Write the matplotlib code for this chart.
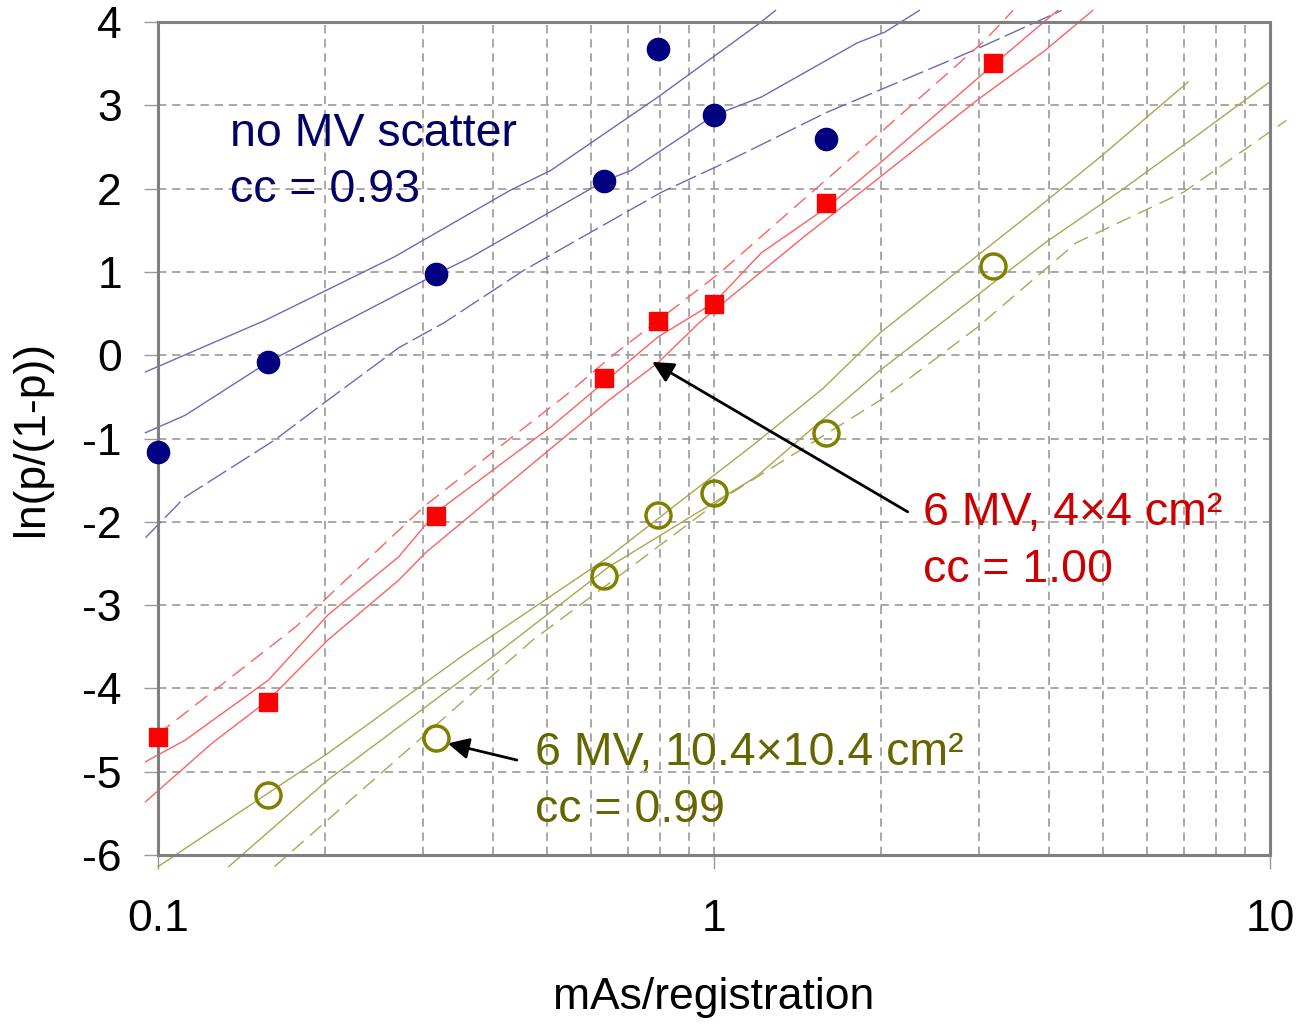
import numpy as np
import matplotlib
matplotlib.use('Agg')
import matplotlib.pyplot as plt
from matplotlib.ticker import LogLocator, FixedLocator, NullFormatter

plt.rcParams['font.family'] = ['Liberation Sans', 'DejaVu Sans']

# measured points
mas = [0.1, 0.158, 0.316, 0.634, 0.793, 1.0, 1.59, 3.17]
y_nomv = [-1.16, -0.08, 0.98, 2.09, 3.68, 2.88, 2.60]
y_4x4 = [-4.58, -4.16, -1.93, -0.27, 0.41, 0.61, 1.83, 3.51]
mas_10 = [0.158, 0.316, 0.634, 0.793, 1.0, 1.59, 3.17]
y_10x10 = [-5.28, -4.60, -2.65, -1.92, -1.65, -0.93, 1.07]

# fit curves (upper band / fit / lower band)
nomv_up_x = [0.095, 0.156, 0.266, 0.43, 0.509, 0.793, 1.21, 1.29]
nomv_up_y = [-0.20, 0.42, 1.18, 1.98, 2.22, 3.10, 3.99, 4.14]
nomv_fit_x = [0.095, 0.112, 0.158, 0.191, 0.316, 0.364, 0.634, 0.71, 1.0, 1.217, 1.81, 2.03, 2.34]
nomv_fit_y = [-0.93, -0.72, -0.08, 0.21, 0.97, 1.17, 2.09, 2.22, 2.88, 3.10, 3.75, 3.88, 4.14]
nomv_lo_x = [0.095, 0.112, 0.162, 0.202, 0.271, 0.327, 0.455, 0.624, 0.806, 1.03, 1.6, 2.03, 2.93, 4.22]
nomv_lo_y = [-2.19, -1.70, -1.02, -0.54, 0.09, 0.39, 1.02, 1.54, 1.96, 2.29, 2.92, 3.21, 3.66, 4.14]

r4_up_x = [0.1, 0.177, 0.303, 0.43, 0.537, 0.658, 1.025, 1.36, 1.99, 3.07, 3.45]
r4_up_y = [-4.55, -3.26, -1.80, -1.00, -0.50, 0.00, 0.99, 1.71, 2.67, 3.78, 4.14]
r4_fit_x = [0.095, 0.112, 0.158, 0.202, 0.271, 0.316, 0.509, 0.793, 1.0, 1.217, 1.6, 1.99, 3.17, 4.15]
r4_fit_y = [-4.88, -4.62, -3.90, -3.12, -2.42, -1.89, -0.86, 0.22, 0.63, 1.23, 1.78, 2.31, 3.48, 4.14]
r4_lo_x = [0.095, 0.125, 0.158, 0.202, 0.271, 0.303, 0.4, 0.647, 0.793, 0.944, 1.45, 1.99, 2.97, 3.94, 4.8]
r4_lo_y = [-5.36, -4.66, -4.14, -3.42, -2.70, -2.37, -1.70, -0.54, -0.09, 0.40, 1.42, 2.14, 3.06, 3.66, 4.14]

r10_up_x = [0.1, 0.202, 0.351, 0.647, 1.19, 1.57, 1.99, 2.65, 3.84, 4.99, 7.12]
r10_up_y = [-6.14, -4.78, -3.62, -2.42, -1.05, -0.40, 0.27, 0.93, 1.78, 2.40, 3.28]
r10_fit_x = [0.134, 0.202, 0.4, 0.647, 1.19, 1.99, 3.94, 5.4, 7.5, 9.98]
r10_fit_y = [-6.14, -5.10, -3.62, -2.54, -1.46, -0.18, 1.35, 1.98, 2.67, 3.28]
r10_lo_x = [0.162, 0.281, 0.472, 0.71, 1.025, 1.99, 2.97, 4.48, 7.0, 10.7]
r10_lo_y = [-6.14, -4.74, -3.42, -2.54, -1.74, -0.54, 0.33, 1.35, 1.96, 2.82]

fig = plt.figure(figsize=(13.13, 10.35), dpi=100)
ax = fig.add_axes([0.1203, 0.1739, 0.8470, 0.8048])

ax.set_xscale('log')
ax.set_xlim(0.1, 10)
ax.set_ylim(-6, 4)

blue_l = '#6a6ab8'
red_l = '#ff6060'
olv_l = '#a8a850'
dash = (11, 6)

ax.plot(nomv_up_x, nomv_up_y, color=blue_l, lw=1.0, clip_on=False)
ax.plot(nomv_fit_x, nomv_fit_y, color=blue_l, lw=1.0, clip_on=False)
ax.plot(nomv_lo_x, nomv_lo_y, color=blue_l, lw=1.0, dashes=(16, 4), clip_on=False)

ax.plot(r4_up_x, r4_up_y, color=red_l, lw=1.0, dashes=dash, clip_on=False)
ax.plot(r4_fit_x, r4_fit_y, color=red_l, lw=1.0, clip_on=False)
ax.plot(r4_lo_x, r4_lo_y, color=red_l, lw=1.0, clip_on=False)

ax.plot(r10_up_x, r10_up_y, color=olv_l, lw=1.0, clip_on=False)
ax.plot(r10_fit_x, r10_fit_y, color=olv_l, lw=1.0, clip_on=False)
ax.plot(r10_lo_x, r10_lo_y, color=olv_l, lw=1.0, dashes=dash, clip_on=False)

ax.plot(mas[:len(y_nomv)], y_nomv, 'o', color='#000080', ms=16, mec='#000080', clip_on=False, zorder=5)
ax.plot(mas, y_4x4, 's', color='#ff0000', ms=13, mec='#ff0000', clip_on=False, zorder=5)
ax.plot(mas_10, y_10x10, 'o', mfc='none', mec='#808000', ms=18, mew=2.5, clip_on=False, zorder=5)

# text labels
fs = 33.5
ax.text(0.1347, 2.51, 'no MV scatter', color='#000066', fontsize=fs, va='baseline')
ax.text(0.1347, 1.84, 'cc = 0.93', color='#000066', fontsize=fs, va='baseline')
ax.text(2.376, -2.04, '6 MV, 4\u00d74 cm\u00b2', color='#cc0000', fontsize=fs, va='baseline')
ax.text(2.376, -2.72, 'cc = 1.00', color='#cc0000', fontsize=fs, va='baseline')
ax.text(0.4765, -4.92, '6 MV, 10.4\u00d710.4 cm\u00b2', color='#666600', fontsize=fs, va='baseline')
ax.text(0.4765, -5.60, 'cc = 0.99', color='#666600', fontsize=fs, va='baseline')

ax.annotate('', xy=(0.774, -0.08), xytext=(2.23, -1.88),
            arrowprops=dict(arrowstyle='-|>', color='black', lw=2, mutation_scale=32,
                            shrinkA=0, shrinkB=0))
ax.annotate('', xy=(0.332, -4.66), xytext=(0.442, -4.86),
            arrowprops=dict(arrowstyle='-|>', color='black', lw=2, mutation_scale=32,
                            shrinkA=0, shrinkB=0))

# axes / grid
ax.xaxis.set_major_locator(FixedLocator([0.1, 1, 10]))
ax.set_xticklabels(['0.1', '1', '10'])
ax.xaxis.set_minor_locator(LogLocator(base=10, subs=np.arange(2, 10)))
ax.xaxis.set_minor_formatter(NullFormatter())
ax.set_yticks(np.arange(-6, 5))
ax.set_yticklabels([str(v) for v in range(-6, 5)])

ax.grid(True, which='major', color='#999999', lw=1.2, ls=(0, (5, 3.5)))
ax.grid(True, which='minor', axis='x', color='#999999', lw=1.2, ls=(0, (5, 3.5)))

ax.tick_params(which='major', length=10, width=1, color='#999999', labelsize=32, pad=16)
ax.tick_params(axis='x', which='major', pad=22)
ax.tick_params(which='minor', length=0)

for s in ax.spines.values():
    s.set_color('#808080')
    s.set_linewidth(2.2)

ax.set_xlabel('mAs/registration', fontsize=32, labelpad=26)
ax.set_ylabel('ln(p/(1-p))', fontsize=32, labelpad=22)

fig.savefig('out.png', dpi=100)
